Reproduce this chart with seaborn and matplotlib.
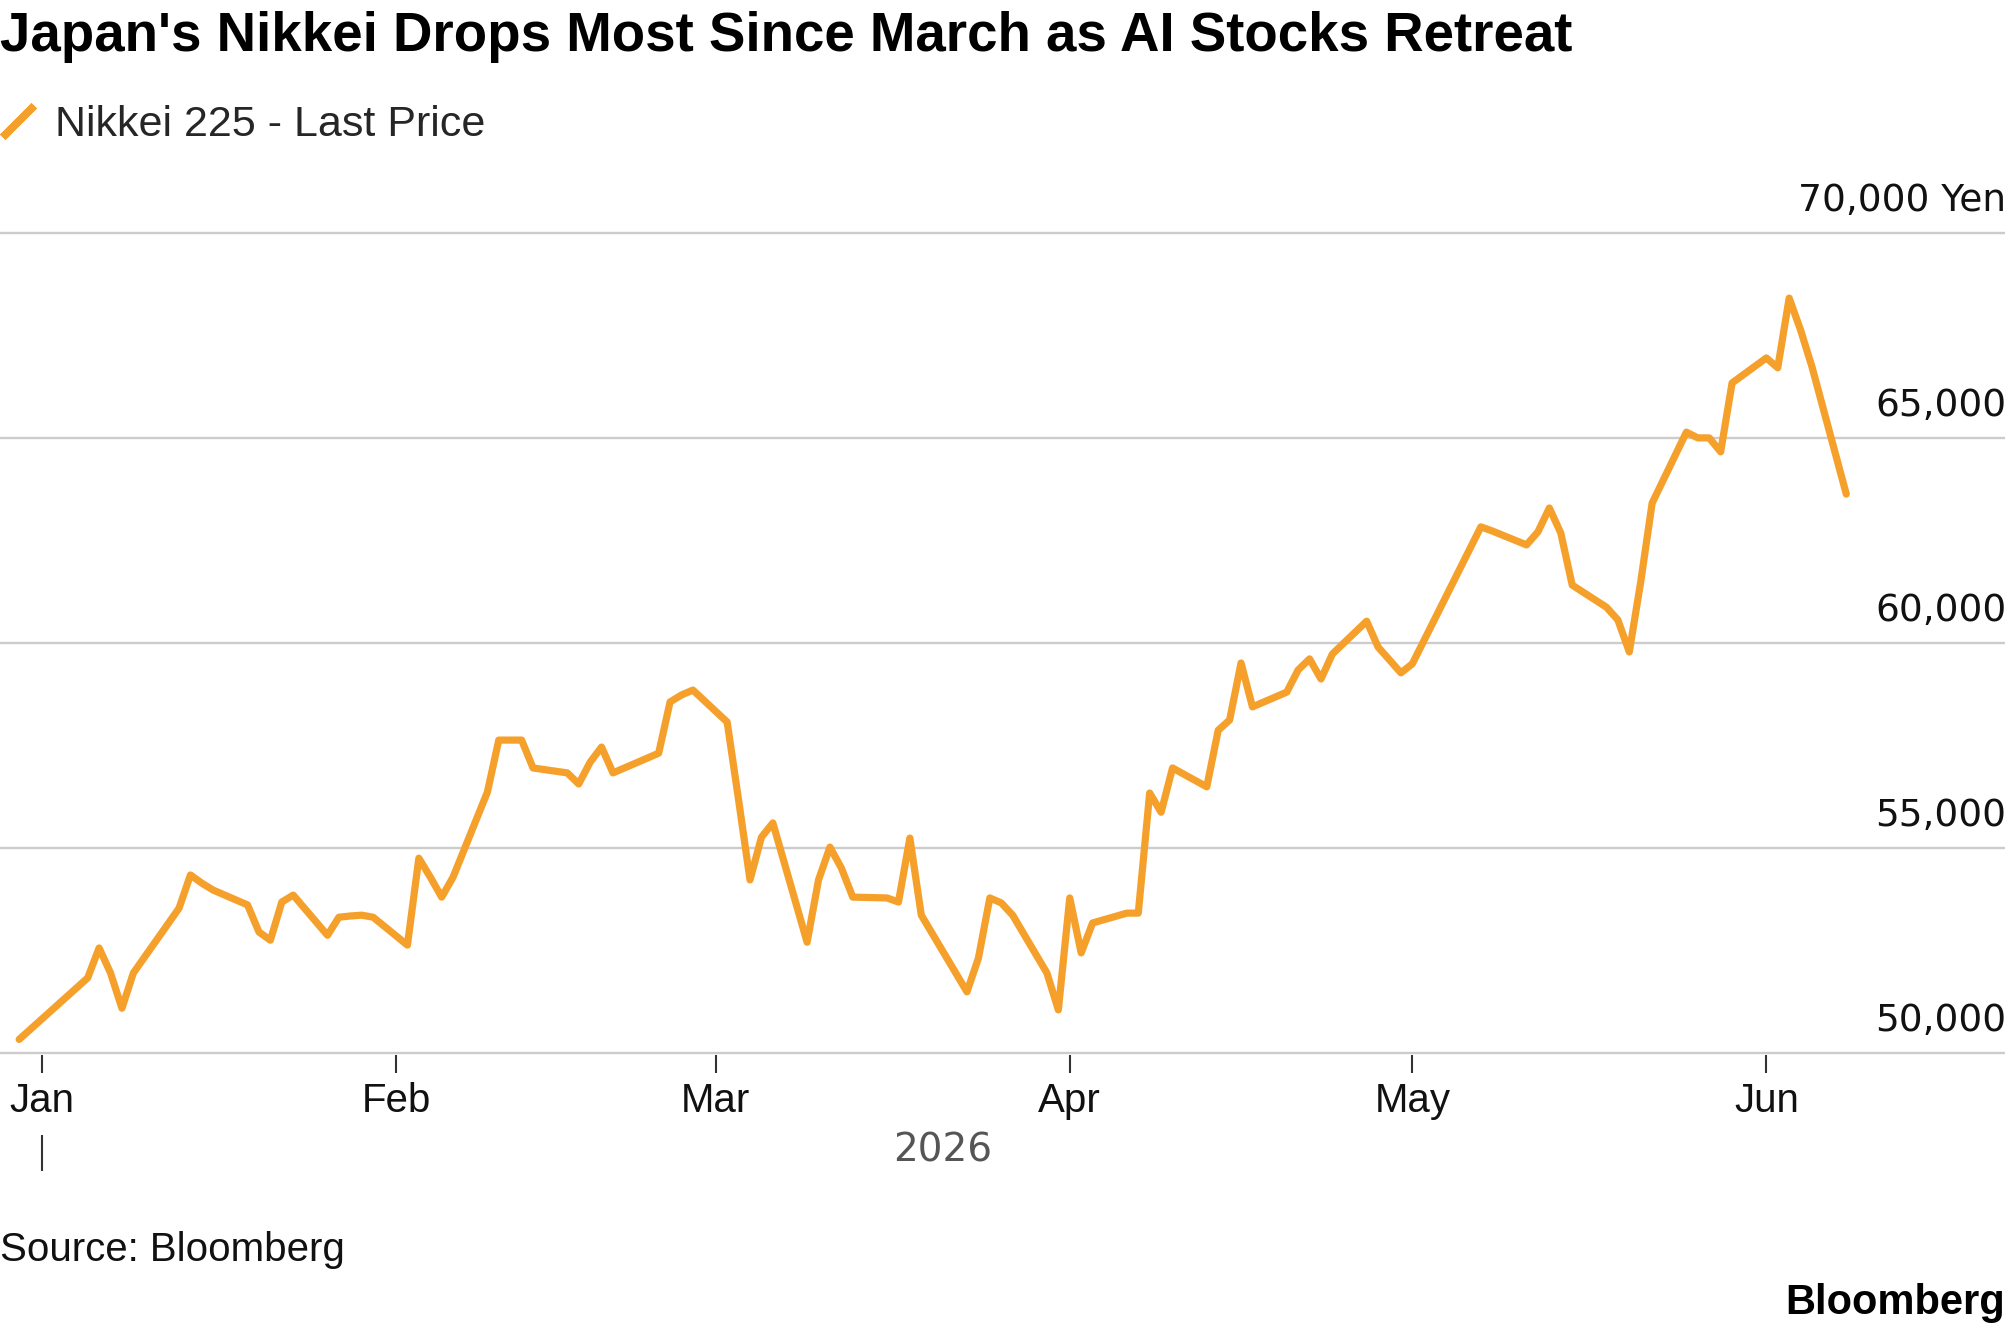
import pandas as pd
import seaborn as sns
import matplotlib.pyplot as plt
import matplotlib.dates as mdates
from matplotlib.lines import Line2D

dates = [
    "2025-12-30",
    "2026-01-05", "2026-01-06", "2026-01-07", "2026-01-08", "2026-01-09",
    "2026-01-13", "2026-01-14", "2026-01-15", "2026-01-16",
    "2026-01-19", "2026-01-20", "2026-01-21", "2026-01-22", "2026-01-23",
    "2026-01-26", "2026-01-27", "2026-01-28", "2026-01-29", "2026-01-30",
    "2026-02-02", "2026-02-03", "2026-02-04", "2026-02-05", "2026-02-06",
    "2026-02-09", "2026-02-10", "2026-02-12", "2026-02-13",
    "2026-02-16", "2026-02-17", "2026-02-18", "2026-02-19", "2026-02-20",
    "2026-02-24", "2026-02-25", "2026-02-26", "2026-02-27",
    "2026-03-02", "2026-03-03", "2026-03-04", "2026-03-05", "2026-03-06",
    "2026-03-09", "2026-03-10", "2026-03-11", "2026-03-12", "2026-03-13",
    "2026-03-16", "2026-03-17", "2026-03-18", "2026-03-19",
    "2026-03-23", "2026-03-24", "2026-03-25", "2026-03-26", "2026-03-27",
    "2026-03-30", "2026-03-31", "2026-04-01", "2026-04-02", "2026-04-03",
    "2026-04-06", "2026-04-07", "2026-04-08", "2026-04-09", "2026-04-10",
    "2026-04-13", "2026-04-14", "2026-04-15", "2026-04-16", "2026-04-17",
    "2026-04-20", "2026-04-21", "2026-04-22", "2026-04-23", "2026-04-24",
    "2026-04-27", "2026-04-28", "2026-04-30", "2026-05-01",
    "2026-05-07", "2026-05-08",
    "2026-05-11", "2026-05-12", "2026-05-13", "2026-05-14", "2026-05-15",
    "2026-05-18", "2026-05-19", "2026-05-20", "2026-05-21", "2026-05-22",
    "2026-05-25", "2026-05-26", "2026-05-27", "2026-05-28", "2026-05-29",
    "2026-06-01", "2026-06-02", "2026-06-03", "2026-06-04", "2026-06-05",
    "2026-06-08",
]

prices = [
    50340,
    51840, 52570, 51960, 51100, 51960,
    53540, 54350, 54150, 53980,
    53620, 52960, 52760, 53690, 53860,
    52880, 53320, 53350, 53370, 53320,
    52640, 54760, 54300, 53810, 54300,
    56370, 57640, 57640, 56960,
    56840, 56570, 57100, 57470, 56840,
    57320, 58570, 58740, 58860,
    58080, 56180, 54230, 55270, 55620,
    52710, 54230, 55030, 54520, 53810,
    53790, 53690, 55250, 53370,
    51500, 52320, 53790, 53670, 53370,
    51960, 51060, 53790, 52450, 53180,
    53420, 53420, 56350, 55880, 56960,
    56500, 57880, 58130, 59520, 58450,
    58810, 59350, 59620, 59130, 59740,
    60540, 59910, 59280, 59500,
    62840, 62740,
    62400, 62720, 63300, 62690, 61420,
    60880, 60570, 59790, 61500, 63420,
    65150, 65010, 65010, 64670, 66350,
    66960, 66720, 68420, 67640, 66740,
    63640,
]

yticks = [50000, 55000, 60000, 65000, 70000]
series_name = "Nikkei 225 - Last Price"
title = "Japan's Nikkei Drops Most Since March as AI Stocks Retreat"

orange = "#F6A02C"
grid_grey = "#CCCCCC"

df = pd.DataFrame({"date": pd.to_datetime(dates), "price": prices})

sns.set_theme(style="white")
plt.rcParams["font.family"] = ["Liberation Sans", "DejaVu Sans"]

W, H = 2005, 1329
fig = plt.figure(figsize=(W / 100, H / 100), dpi=100)
fig.patch.set_facecolor("white")
# plot box: 50000 line at y=1053px, 70000 at 233px, Jan 1 at x=42px, 11.42 px/day
ax = fig.add_axes([0, 1 - 1055.4 / H, 1, 824.15 / H])

sns.lineplot(data=df, x="date", y="price", color=orange, linewidth=5.2, ax=ax)

jan1 = pd.Timestamp("2026-01-01")
ax.set_xlim(jan1 - pd.Timedelta(days=3.678), jan1 + pd.Timedelta(days=171.9))
ax.set_ylim(49950, 70050)

for s in ax.spines.values():
    s.set_visible(False)

ax.set_yticks(yticks)
ax.yaxis.grid(True, color=grid_grey, linewidth=1.7)
ax.xaxis.grid(False)
ax.tick_params(axis="y", left=False, right=False, labelleft=False, labelright=False)
for v in yticks:
    txt = f"{v:,}" + (" Yen" if v == max(yticks) else "")
    ax.annotate(txt, xy=(1, v), xycoords=("axes fraction", "data"),
                xytext=(1, 23.5), textcoords="offset points",
                ha="right", va="center", fontsize=27, color="#111111",
                family="DejaVu Sans")

ax.xaxis.set_major_locator(mdates.MonthLocator())
ax.xaxis.set_major_formatter(mdates.DateFormatter("%b"))
ax.tick_params(axis="x", bottom=True, length=13, width=1.5, color="#333333",
               labelsize=29, labelcolor="#111111", pad=6)
ax.set_xlabel("")
ax.set_ylabel("")

# year marker below the month labels
sec = ax.secondary_xaxis(location=(1055.4 - 1135) / 824.15)
sec.set_xticks([jan1])
sec.set_xticklabels([""])
sec.tick_params(length=26, width=1.5, color="#333333")
sec.spines["bottom"].set_visible(False)
ax.text(0.47, (1055.4 - 1150) / 824.15, "2026", transform=ax.transAxes,
        ha="center", va="center", fontsize=28, color="#555555",
        family="DejaVu Sans")

# title, fitted to the reference width
t = fig.text(0.0, 1 - 51 / H, title, fontsize=38, fontweight="bold",
             va="baseline", ha="left", color="black")
fig.canvas.draw()
w = t.get_window_extent().width
t.set_fontsize(38 * 1569 / w)

handle = Line2D([], [], linestyle="none", marker=(2, 2, -45), markersize=32,
                markeredgewidth=5.5, markeredgecolor=orange, color=orange)
fig.legend([handle], [series_name], loc="center left",
           bbox_to_anchor=(-0.002, 1 - 125 / H), frameon=False, fontsize=31,
           borderpad=0, borderaxespad=0, handlelength=1.0, handletextpad=0.38)

fig.text(0.0, 1 - 1261 / H, "Source: Bloomberg", fontsize=29, va="baseline",
         ha="left", color="#111111")
fig.text(1.0, 1 - 1314 / H, "Bloomberg", fontsize=30, fontweight="bold",
         va="baseline", ha="right", color="black")

fig.savefig("out.png", dpi=100, facecolor="white")
